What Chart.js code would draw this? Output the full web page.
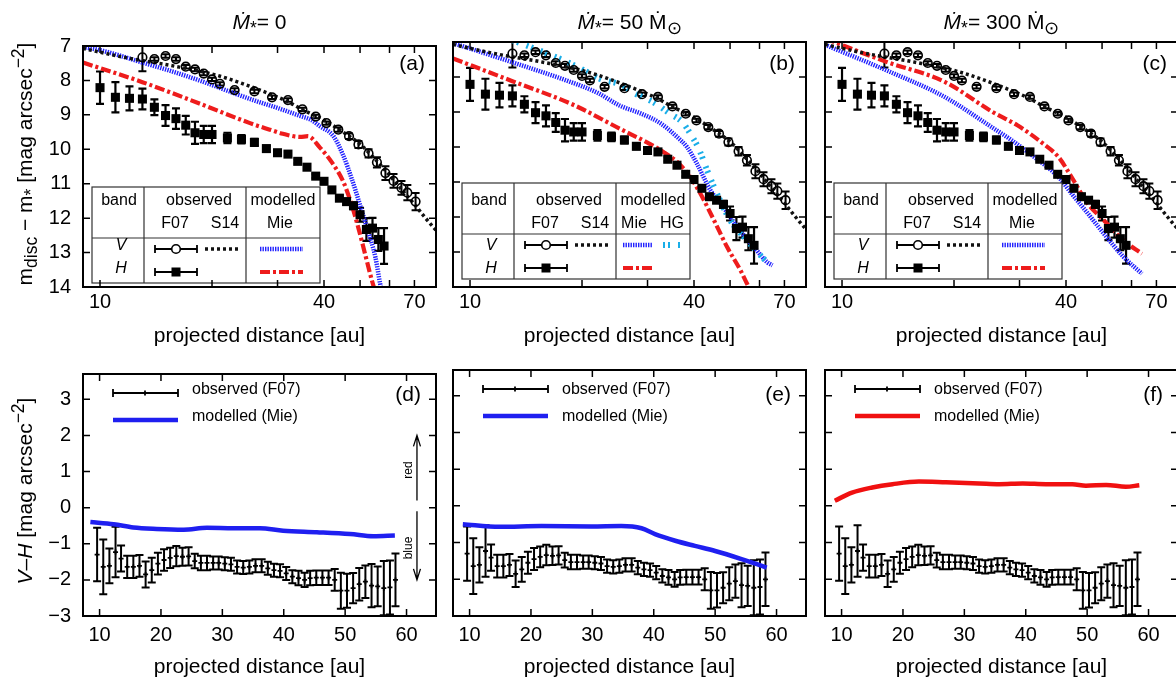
<!DOCTYPE html>
<html>
<head>
<meta charset="utf-8">
<script src="https://cdn.jsdelivr.net/npm/chart.js@4.4.0/dist/chart.umd.min.js"></script>
<style>
body{margin:0;width:1176px;height:680px;overflow:hidden;background:#fff;font-family:'Liberation Sans',Arial,sans-serif;color:#000;position:relative}
canvas{position:absolute}
.lb{position:absolute;white-space:nowrap;line-height:1}
sub,sup{line-height:0}
</style>
</head>
<body>
<script>
// ---- observed data (F07), same in all top panels
var hX = [10,11,12,13,14,15,16,17,18,19,20,22,24,26,28,30,32,34,36,38,40,42,44,46,48,50,52,54,56,58]
var hY = [8.21,8.49,8.52,8.54,8.78,9.02,9.11,9.30,9.52,9.57,9.57,9.67,9.71,9.80,9.98,10.10,10.14,10.35,10.52,10.78,10.93,11.18,11.42,11.52,11.64,11.90,12.33,12.29,12.62,12.81]
var hErr = [0.47,0.44,0.35,0.30,0.23,0.30,0.30,0.27,0.32,0.25,0.25,0.15,0.12,0.10,0.08,0.06,0.06,0.06,0.06,0.06,0.06,0.06,0.07,0.08,0.10,0.20,0.33,0.30,0.33,0.52]
var vX = [13,14,15,16,17,18,19,20,21,23,26,29,32,35,38,40.6,43.7,46.7,49.5,52.7,55.5,58.5,61.5,64.6,67,70.5]
var vY = [7.33,7.38,7.29,7.38,7.60,7.68,7.80,7.97,8.10,8.28,8.32,8.49,8.57,8.84,9.05,9.24,9.43,9.62,9.86,10.12,10.38,10.69,10.92,11.12,11.26,11.52]
var vErr = [0.40,0.05,0.05,0.05,0.05,0.05,0.05,0.05,0.05,0.05,0.05,0.05,0.05,0.05,0.05,0.05,0.06,0.08,0.10,0.12,0.15,0.20,0.20,0.20,0.22,0.25]
// S14 V profile
var s14X = [9,11.5,15.4,20.6,27.5,32,35,40,45,50,55,60,65,70,75,80]
var s14Y = [7.07,7.32,7.56,7.85,8.32,8.62,8.85,9.15,9.5,9.85,10.3,10.75,11.2,11.6,12.0,12.35]
// models, panel (a)
var mieVaX = [9,10,13,15,18.5,22,25.8,30,34.5,37,39,42.4,45.1,47.5,50,52.2,55,56.6,58]
var mieVaY = [7.03,7.12,7.48,7.68,8.0,8.3,8.57,8.8,9.03,9.15,9.33,9.62,10.19,10.86,11.62,12.29,13.14,13.9,14.4]
var mieHaX = [9,13,18.5,25.3,28.6,31,34.5,36.2,39,42,45.1,47.5,49.5,51.6,53.8,55.5]
var mieHaY = [7.48,8.05,8.67,9.24,9.43,9.55,9.64,9.62,9.95,10.38,10.95,11.62,12.29,13.05,13.81,14.3]
// models, panel (b)
var mieVbX = [9,13,18.5,22,25.3,28.9,32.6,36,38.3,40.7,44.3,48.2,52.3,58,62.9,65]
var mieVbY = [7.03,7.58,8.13,8.45,8.82,9.05,9.33,9.71,10.0,10.47,11.24,11.75,12.29,12.86,13.29,13.38]
var hgVbX = [13,15,17.8,20,22.3,25.9,27.5,31,34.5,37.2,39.1,41.2,43.4,46.1,50.1,54.5,60.4,64.1]
var hgVbY = [6.95,7.2,7.52,7.78,8.05,8.25,8.45,8.71,9.05,9.29,9.62,10.05,10.67,11.33,12.1,12.57,13.1,13.38]
var mieHbX = [9,13,19,25.3,29.8,33.1,36.4,39.1,41.6,45.3,49.1,53.3,55.5,57.5]
var mieHbY = [7.47,8.12,8.8,9.48,9.86,10.14,10.47,10.86,11.33,12.1,12.86,13.52,13.9,14.25]
// models, panel (c)
var mieVcX = [9,13.1,18.8,25.4,28.5,32.9,38.2,41.4,45.8,50.6,57.1,64]
var mieVcY = [7.08,7.8,8.56,9.45,9.8,10.29,10.86,11.33,11.9,12.48,13.14,13.62]
var mieHcX = [9,13.1,18.8,25.4,29.6,34.3,38.2,41.4,45.8,50.6,57.1,64]
var mieHcY = [6.9,7.56,8.13,9.0,9.38,9.86,10.29,10.86,11.62,12.1,12.67,13.05]
// V-H colour, observed
var vhX = [9.6,10.6,11.6,12.6,13.5,14.5,15.5,16.5,17.5,18.5,19.5,20.5,21.5,22.5,23.5,24.5,25.5,26.5,27.5,28.5,29.4,30.4,31.4,32.4,33.4,34.4,35.4,36.4,37.4,38.4,39.4,40.4,41.4,42.4,43.4,44.3,45.3,46.3,47.3,48.3,49.3,50.3,51.3,52.3,53.3,54.3,55.3,56.3,57.3,58.2]
var vhY = [-1.30,-1.64,-1.61,-1.23,-1.41,-1.64,-1.64,-1.61,-1.85,-1.73,-1.55,-1.45,-1.39,-1.34,-1.36,-1.35,-1.48,-1.53,-1.53,-1.53,-1.53,-1.55,-1.57,-1.64,-1.66,-1.64,-1.61,-1.61,-1.68,-1.73,-1.75,-1.82,-1.91,-1.95,-2.00,-1.95,-1.94,-1.94,-1.94,-2.00,-2.30,-2.30,-2.23,-2.12,-2.05,-2.16,-2.18,-2.23,-2.21,-2.00]
var vhErr = [0.74,0.76,0.48,0.70,0.36,0.31,0.31,0.30,0.36,0.34,0.30,0.30,0.28,0.28,0.25,0.25,0.20,0.20,0.20,0.18,0.18,0.18,0.18,0.18,0.18,0.18,0.18,0.18,0.18,0.18,0.18,0.18,0.18,0.20,0.20,0.20,0.20,0.20,0.20,0.30,0.50,0.47,0.42,0.45,0.45,0.60,0.55,0.75,0.75,0.73]
// V-H colour, models
var modDX = [8.5,12.3,15.5,19.3,23.7,27.5,31.8,36.1,39.9,45.4,50.8,54.6,58.1]
var modDY = [-0.40,-0.46,-0.55,-0.59,-0.61,-0.56,-0.57,-0.57,-0.64,-0.68,-0.73,-0.79,-0.77]
var modEX = [8.9,14.9,21.7,29.8,34.7,38.0,40.2,43.5,46.7,50.0,54.3,58.4]
var modEY = [-0.50,-0.57,-0.55,-0.56,-0.55,-0.61,-0.77,-0.95,-1.09,-1.23,-1.45,-1.68]
var modFX = [8.9,11.7,15.0,18.3,22.6,27.0,32.4,35.7,39.5,43.3,47.6,49.8,53.1,56.3,58.5]
var modFY = [0.14,0.36,0.50,0.59,0.66,0.64,0.61,0.59,0.61,0.59,0.59,0.55,0.57,0.52,0.56]
// ticks
var topXTicks = [10,40,70]
var topXMarks = [10,20,30,40,50,60,70,80]
var topYTicks = [7,8,9,10,11,12,13,14]
var botXTicks = [10,20,30,40,50,60]
var botYTicks = [-3,-2,-1,0,1,2,3]

// layout
var cols = [83, 453, 825]
var boxW = 353
var topT = 42, topH = 245, botT = 370, botH = 246

var st = {
    s14: {color: '#111', w: 3.5, dash: [3, 3]},
    mieV: {color: '#2222ff', w: 4.5, dash: [1.4, 1.1]},
    mieH: {color: '#ee1c1c', w: 4.2, dash: [10, 3, 3, 3]},
    hg: {color: '#1aaee8', w: 6, dash: [2, 3, 2, 8]}
}

Chart.defaults.font.family = "'Liberation Sans', Arial, sans-serif"
Chart.defaults.color = '#000'

function pts(xs, ys) { return xs.map((x, i) => ({x: x, y: ys[i]})) }

function curve(xs, ys, s) {
    return {data: pts(xs, ys), showLine: true, borderColor: s.color, borderWidth: s.w,
        borderDash: s.dash, pointRadius: 0, fill: false, cubicInterpolationMode: 'monotone', clip: 0}
}

function txt(html, x, y, css, anchor) {
    var d = document.createElement('div')
    d.className = 'lb'
    d.innerHTML = html
    var tr = anchor === 'l' ? 'translate(0,-50%)' : anchor === 'r' ? 'translate(-100%,-50%)' : 'translate(-50%,-50%)'
    d.style.cssText = 'left:' + x + 'px;top:' + y + 'px;transform:' + tr + ';' + (css || '')
    document.body.appendChild(d)
}

function seg(ctx, x1, x2, y, s) {
    ctx.save()
    ctx.strokeStyle = s.color; ctx.lineWidth = s.w; ctx.setLineDash(s.dash || [])
    ctx.beginPath(); ctx.moveTo(x1, y); ctx.lineTo(x2, y); ctx.stroke()
    ctx.restore()
}

function errSample(ctx, x1, x2, y, cap, w) {
    ctx.save()
    ctx.strokeStyle = '#000'; ctx.lineWidth = w
    ctx.beginPath()
    ctx.moveTo(x1, y); ctx.lineTo(x2, y)
    ctx.moveTo(x1, y - cap); ctx.lineTo(x1, y + cap)
    ctx.moveTo(x2, y - cap); ctx.lineTo(x2, y + cap)
    ctx.stroke()
    ctx.restore()
}

//Plugins
var errbars = {
    id: 'errbars',
    beforeDatasetsDraw(chart, args, o) {
        if (!o.sets) return
        var ctx = chart.ctx, a = chart.chartArea, x = chart.scales.x, y = chart.scales.y
        ctx.save()
        ctx.beginPath(); ctx.rect(a.left, a.top, a.right - a.left, a.bottom - a.top); ctx.clip()
        o.sets.forEach(s => {
            ctx.strokeStyle = '#000'; ctx.lineWidth = s.w
            ctx.beginPath()
            s.x.forEach((xv, i) => {
                var px = x.getPixelForValue(xv)
                var p1 = y.getPixelForValue(s.y[i] - s.e[i]), p2 = y.getPixelForValue(s.y[i] + s.e[i])
                ctx.moveTo(px, p1); ctx.lineTo(px, p2)
                ctx.moveTo(px - s.cap, p1); ctx.lineTo(px + s.cap, p1)
                ctx.moveTo(px - s.cap, p2); ctx.lineTo(px + s.cap, p2)
            })
            ctx.stroke()
        })
        ctx.restore()
    }
}

var key = {
    id: 'key',
    afterDatasetsDraw(chart, args, o) {
        if (!o.kind) return
        var ctx = chart.ctx, a = chart.chartArea
        var L = a.left, T = a.top
        ctx.save()
        if (o.kind === 'table') {
            ctx.fillStyle = '#fff'
            ctx.fillRect(L + 9, T + 141, 228, 96)
            ctx.strokeStyle = '#333'; ctx.lineWidth = 1.2
            ctx.strokeRect(L + 9, T + 141, 228, 96)
            ctx.beginPath()
            ctx.moveTo(L + 61, T + 141); ctx.lineTo(L + 61, T + 237)
            ctx.moveTo(L + 163, T + 141); ctx.lineTo(L + 163, T + 237)
            ctx.moveTo(L + 9, T + 192); ctx.lineTo(L + 237, T + 192)
            ctx.stroke()
            // V row
            errSample(ctx, L + 72, L + 114, T + 203, 4, 1.8)
            ctx.beginPath(); ctx.fillStyle = '#fff'; ctx.strokeStyle = '#000'; ctx.lineWidth = 1.6
            ctx.arc(L + 93, T + 203, 4.3, 0, Math.PI * 2); ctx.fill(); ctx.stroke()
            seg(ctx, L + 122, L + 158, T + 203, st.s14)
            // H row
            errSample(ctx, L + 72, L + 114, T + 226, 4, 1.8)
            ctx.fillStyle = '#000'; ctx.fillRect(L + 88.5, T + 221.5, 9, 9)
            if (o.hg) {
                seg(ctx, L + 170, L + 200, T + 203, st.mieV)
                seg(ctx, L + 210, L + 228, T + 203, st.hg)
                seg(ctx, L + 170, L + 200, T + 226, st.mieH)
            } else {
                seg(ctx, L + 177, L + 220, T + 203, st.mieV)
                seg(ctx, L + 177, L + 220, T + 226, st.mieH)
            }
        } else if (o.kind === 'colour') {
            errSample(ctx, L + 30, L + 95, T + 19, 4, 1.8)
            ctx.strokeStyle = '#000'; ctx.lineWidth = 1.8
            ctx.beginPath(); ctx.moveTo(L + 62, T + 16.5); ctx.lineTo(L + 62, T + 21.5); ctx.stroke()
            seg(ctx, L + 30, L + 95, T + 46, {color: o.color, w: 4.5})
        }
        ctx.restore()
    }
}

var arrows = {
    id: 'arrows',
    afterDatasetsDraw(chart, args, o) {
        if (!o.list) return
        var ctx = chart.ctx, x = chart.scales.x, y = chart.scales.y
        ctx.save()
        ctx.strokeStyle = '#000'; ctx.lineWidth = 1.3
        o.list.forEach(r => {
            var px = x.getPixelForValue(r[0]), p1 = y.getPixelForValue(r[1]), p2 = y.getPixelForValue(r[2])
            var d = p2 < p1 ? 1 : -1
            ctx.beginPath()
            ctx.moveTo(px, p1); ctx.lineTo(px, p2)
            ctx.moveTo(px - 3.5, p2 + d * 11); ctx.lineTo(px, p2); ctx.lineTo(px + 3.5, p2 + d * 11)
            ctx.stroke()
        })
        ctx.restore()
    }
}

var frame = {
    id: 'frame',
    afterDraw(chart, args, o) {
        var ctx = chart.ctx, a = chart.chartArea, x = chart.scales.x, y = chart.scales.y
        ctx.save()
        ctx.strokeStyle = '#000'; ctx.lineWidth = 1.5
        ctx.beginPath()
        o.xt.forEach(v => {
            var p = x.getPixelForValue(v)
            ctx.moveTo(p, a.bottom); ctx.lineTo(p, a.bottom - 7)
            ctx.moveTo(p, a.top); ctx.lineTo(p, a.top + 7)
        })
        o.yt.forEach(v => {
            var p = y.getPixelForValue(v)
            ctx.moveTo(a.left, p); ctx.lineTo(a.left + 7, p)
            ctx.moveTo(a.right, p); ctx.lineTo(a.right - 7, p)
        })
        ctx.stroke()
        ctx.lineWidth = 2
        ctx.strokeRect(a.left, a.top, a.right - a.left, a.bottom - a.top)
        ctx.restore()
    }
}

function panel(left, top, h, cfg) {
    var W = boxW + 80, H = h + 65
    var c = document.createElement('canvas')
    c.width = W; c.height = H
    c.style.left = (left - 60) + 'px'; c.style.top = (top - 20) + 'px'
    c.style.width = W + 'px'; c.style.height = H + 'px'
    document.body.appendChild(c)
    return new Chart(c, {
        type: 'scatter',
        data: {datasets: cfg.datasets},
        options: {
            responsive: false,
            animation: false,
            events: [],
            layout: {padding: {top: 20, right: 20, left: 0, bottom: 0}},
            plugins: {
                legend: {display: false},
                tooltip: {enabled: false},
                errbars: cfg.err || {},
                key: cfg.key || {},
                arrows: cfg.arrows || {},
                frame: cfg.frame
            },
            scales: {
                x: {
                    type: cfg.xType, min: cfg.xMin, max: cfg.xMax,
                    afterFit: s => { s.height = 45 },
                    afterBuildTicks: s => { s.ticks = cfg.xTicks.map(v => ({value: v})) },
                    grid: {display: false, drawTicks: false},
                    border: {display: false},
                    ticks: {padding: cfg.xPad, font: {size: 20}, color: '#000', autoSkip: false, maxRotation: 0,
                        callback: v => String(v)}
                },
                y: {
                    type: 'linear', min: cfg.yMin, max: cfg.yMax, reverse: cfg.yRev,
                    afterFit: s => { s.width = 60 },
                    afterBuildTicks: s => { s.ticks = cfg.yTicks.map(v => ({value: v})) },
                    grid: {display: false, drawTicks: false},
                    border: {display: false},
                    ticks: {display: cfg.yLabels, padding: 12, font: {size: 20}, color: '#000', autoSkip: false,
                        callback: v => v < 0 ? '\u2212' + Math.abs(v) : String(v)}
                }
            }
        },
        plugins: [errbars, key, arrows, frame]
    })
}

function obsSets() {
    return [
        {data: pts(vX, vY), pointStyle: 'circle', pointRadius: 4.3, pointBorderWidth: 1.6,
            pointBorderColor: '#000', pointBackgroundColor: 'rgba(255,255,255,0)', showLine: false, clip: 0},
        {data: pts(hX, hY), pointStyle: 'rect', pointRadius: 6.4, pointBorderWidth: 0,
            pointBackgroundColor: '#000', pointBorderColor: '#000', showLine: false, clip: 0},
        curve(s14X, s14Y, st.s14)
    ]
}

var topErr = {sets: [
    {x: vX, y: vY, e: vErr, cap: 4, w: 2},
    {x: hX, y: hY, e: hErr, cap: 4, w: 2.2}
]}

var models = [
    [curve(mieVaX, mieVaY, st.mieV), curve(mieHaX, mieHaY, st.mieH)],
    [curve(hgVbX, hgVbY, st.hg), curve(mieVbX, mieVbY, st.mieV), curve(mieHbX, mieHbY, st.mieH)],
    [curve(mieVcX, mieVcY, st.mieV), curve(mieHcX, mieHcY, st.mieH)]
]

models.forEach((m, i) => {
    panel(cols[i], topT, topH, {
        datasets: obsSets().concat(m),
        xType: 'logarithmic', xMin: 9, xMax: 80, xTicks: topXTicks, xPad: 3,
        yMin: 7, yMax: 14, yRev: true, yTicks: topYTicks, yLabels: i === 0,
        err: topErr,
        key: {kind: 'table', hg: i === 1},
        frame: {xt: topXMarks, yt: topYTicks}
    })
})

var colourLines = [[modDX, modDY, '#1f1ff0'], [modEX, modEY, '#1f1ff0'], [modFX, modFY, '#f01010']]
colourLines.forEach((m, i) => {
    panel(cols[i], botT, botH, {
        datasets: [
            {data: pts(vhX, vhY), pointStyle: 'cross', pointRadius: 2.5, pointBorderWidth: 1.8,
                pointBorderColor: '#000', showLine: false, clip: 0},
            {data: pts(m[0], m[1]), showLine: true, borderColor: m[2], borderWidth: 4.5, pointRadius: 0,
                cubicInterpolationMode: 'monotone', clip: 0}
        ],
        xType: 'linear', xMin: 7.3, xMax: 64.8, xTicks: botXTicks, xPad: 7,
        yMin: -3, yMax: 3.7, yRev: false, yTicks: botYTicks, yLabels: i === 0,
        err: {sets: [{x: vhX, y: vhY, e: vhErr, cap: 4, w: 2}]},
        key: {kind: 'colour', color: m[2]},
        arrows: i === 0 ? {list: [[61.7, 0.2, 2.0], [61.7, -0.1, -2.0]]} : {},
        frame: {xt: botXTicks, yt: botYTicks}
    })
})

// text
var titles = ['<i>\u1E40</i><sub>*</sub>= 0', '<i>\u1E40</i><sub>*</sub>= 50 \u1E40<sub>\u2299</sub>', '<i>\u1E40</i><sub>*</sub>= 300 \u1E40<sub>\u2299</sub>']
var tags = [['(a)', '(b)', '(c)'], ['(d)', '(e)', '(f)']]
cols.forEach((L, i) => {
    var cx = L + boxW / 2
    txt(titles[i], cx, 21, 'font-size:21px')
    txt('projected distance [au]', cx, 334, 'font-size:21px')
    txt('projected distance [au]', cx, 665, 'font-size:21px')
    txt(tags[0][i], L + 342, topT + 20, 'font-size:21px', 'r')
    txt(tags[1][i], L + 338, botT + 23, 'font-size:21px', 'r')
    // table text
    var f = 'font-size:16px'
    txt('band', L + 36, topT + 158, f)
    txt('observed', L + 116, topT + 158, f)
    txt('modelled', L + 200, topT + 158, f)
    txt('F07', L + 92, topT + 181, f)
    txt('S14', L + 142, topT + 181, f)
    if (i === 1) {
        txt('Mie', L + 181, topT + 181, f)
        txt('HG', L + 219, topT + 181, f)
    } else {
        txt('Mie', L + 197, topT + 181, f)
    }
    txt('<i>V</i>', L + 38, topT + 203, f)
    txt('<i>H</i>', L + 38, topT + 226, f)
    txt('observed (F07)', L + 109, botT + 19, f, 'l')
    txt('modelled (Mie)', L + 109, botT + 46, f, 'l')
})
txt('m<sub>disc</sub> \u2212 m<sub>*</sub> [mag arcsec<sup>\u22122</sup>]', 24, 164, 'font-size:21px;transform:translate(-50%,-50%) rotate(-90deg)')
txt('<i>V</i>\u2013<i>H</i> [mag arcsec<sup>\u22122</sup>]', 24, 491, 'font-size:21px;transform:translate(-50%,-50%) rotate(-90deg)')
txt('red', 408, 470, 'font-size:12px;transform:translate(-50%,-50%) rotate(-90deg)')
txt('blue', 408, 548, 'font-size:12px;transform:translate(-50%,-50%) rotate(-90deg)')
</script>
</body>
</html>
